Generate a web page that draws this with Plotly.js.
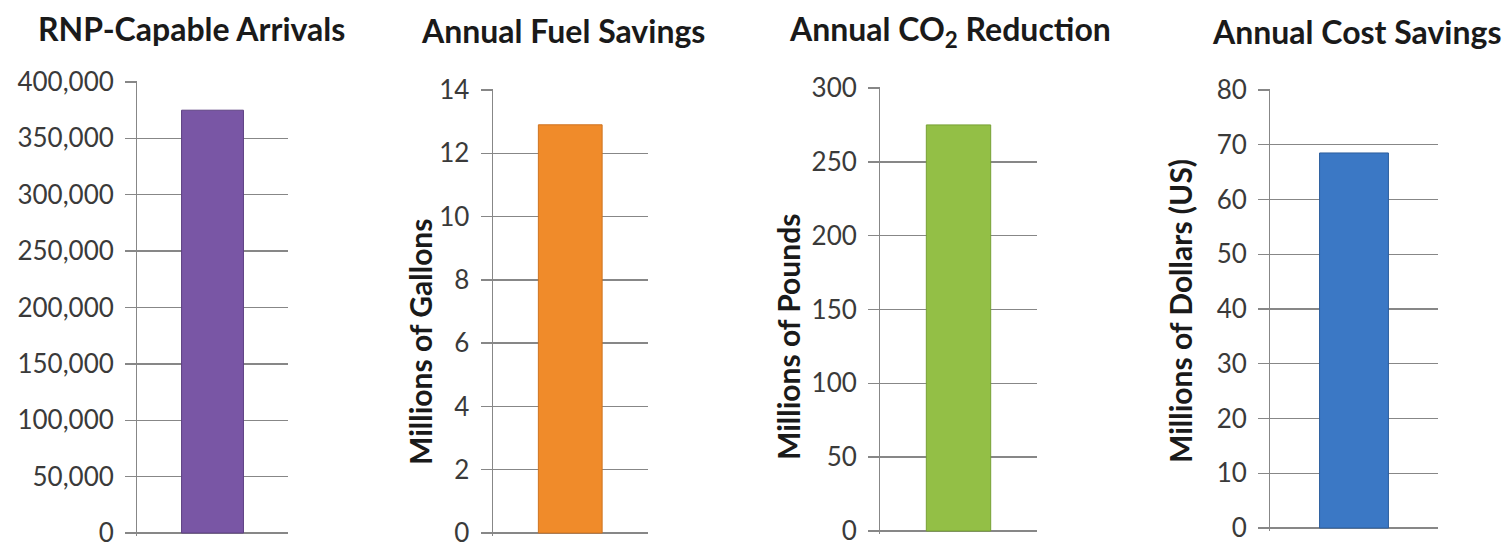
<!DOCTYPE html>
<html>
<head>
<meta charset="utf-8">
<script src="https://cdn.plot.ly/plotly-3.0.1.min.js"></script>
<style>
  html, body { margin: 0; padding: 0; background: #ffffff; }
  #chart { width: 1507px; height: 544px; }
</style>
</head>
<body>
<div id="chart"></div>
<script>
// ---- data ----
const panelTitles = ["RNP-Capable Arrivals", "Annual Fuel Savings", "Annual CO<sub>2</sub> Reduction", "Annual Cost Savings"];
const axisTitles = ["", "Millions of Gallons", "Millions of Pounds", "Millions of Dollars (US)"];
const categories = [""];
const arrivals = [375000];
const fuelSavings = [12.9];
const co2Reduction = [275];
const costSavings = [68.5];
const yMax = [400000, 14, 300, 80];
const yStep = [50000, 2, 50, 10];

// ---- style / layout ----
const W = 1507, H = 544;
const colors = ["#7956A5", "#F08B2A", "#93BF46", "#3B78C5"];
const edge = ["#5E4083", "#CF7320", "#77A034", "#2D5F9E"];
const xPix = [[137, 288], [492.5, 648], [880, 1037], [1270, 1438]];
const yPix = [[82, 533], [90, 533], [88, 531], [90, 528]];   // top gridline, zero gridline
const titlePos = [[191, 28], [563, 30], [950, 31], [1357, 31]];
const axisTitlePos = [[0, 0], [420, 342], [788, 337], [1180, 311]];
const series = [arrivals, fuelSavings, co2Reduction, costSavings];
const padPx = 3; // extra room below the zero line

const gridColor = "#878787";
const fontFam = "Lato, 'Open Sans', sans-serif";
const data = [];
const layout = {
  width: W, height: H,
  margin: {l: 0, r: 0, t: 0, b: 0},
  paper_bgcolor: "#ffffff",
  plot_bgcolor: "rgba(0,0,0,0)",
  showlegend: false,
  font: {family: fontFam, color: "#3a3a3a"},
  annotations: []
};

for (let i = 0; i < 4; i++) {
  const sfx = i === 0 ? "" : String(i + 1);
  const plotH = yPix[i][1] - yPix[i][0];
  const yMin = -yMax[i] * padPx / plotH;
  data.push({
    type: "bar",
    x: categories,
    y: series[i],
    xaxis: "x" + sfx,
    yaxis: "y" + sfx,
    width: 0.41,
    marker: {color: colors[i], line: {color: edge[i], width: 1}},
    hoverinfo: "y"
  });
  layout["xaxis" + sfx] = {
    domain: [xPix[i][0] / W, xPix[i][1] / W],
    anchor: "y" + sfx,
    type: "category",
    range: [-0.5, 0.5],
    showticklabels: false,
    showgrid: false,
    zeroline: false,
    showline: false,
    ticks: "",
    fixedrange: true
  };
  layout["yaxis" + sfx] = {
    domain: [(H - yPix[i][1] - padPx) / H, (H - yPix[i][0] + 1) / H],
    anchor: "x" + sfx,
    range: [yMin, yMax[i] * (1 + 1 / plotH)],
    dtick: yStep[i],
    tick0: 0,
    tickformat: i === 0 ? ",d" : "d",
    showgrid: true,
    gridcolor: gridColor,
    gridwidth: 1.4,
    zeroline: true,
    zerolinecolor: gridColor,
    zerolinewidth: 1.4,
    showline: true,
    linecolor: gridColor,
    linewidth: 1,
    ticks: "outside",
    ticklen: 11,
    tickcolor: gridColor,
    tickwidth: 1.4,
    ticklabelstandoff: 6,
    ticklabeloverflow: "allow",
    tickfont: {family: fontFam, size: 26, color: "#3a3a3a"},
    fixedrange: true
  };
  layout.annotations.push({
    text: "<b>" + panelTitles[i] + "</b>",
    xref: "paper", yref: "paper",
    x: titlePos[i][0] / W, y: (H - titlePos[i][1]) / H,
    xanchor: "center", yanchor: "middle",
    showarrow: false,
    font: {family: fontFam, size: 32, color: "#1a1a1a"}
  });
  if (axisTitles[i]) {
    layout.annotations.push({
      text: "<b>" + axisTitles[i] + "</b>",
      xref: "paper", yref: "paper",
      x: axisTitlePos[i][0] / W, y: (H - axisTitlePos[i][1]) / H,
      xanchor: "center", yanchor: "middle",
      textangle: -90,
      showarrow: false,
      font: {family: fontFam, size: 30, color: "#1a1a1a"}
    });
  }
}

Plotly.newPlot("chart", data, layout, {displayModeBar: false, staticPlot: true});
</script>
</body>
</html>
